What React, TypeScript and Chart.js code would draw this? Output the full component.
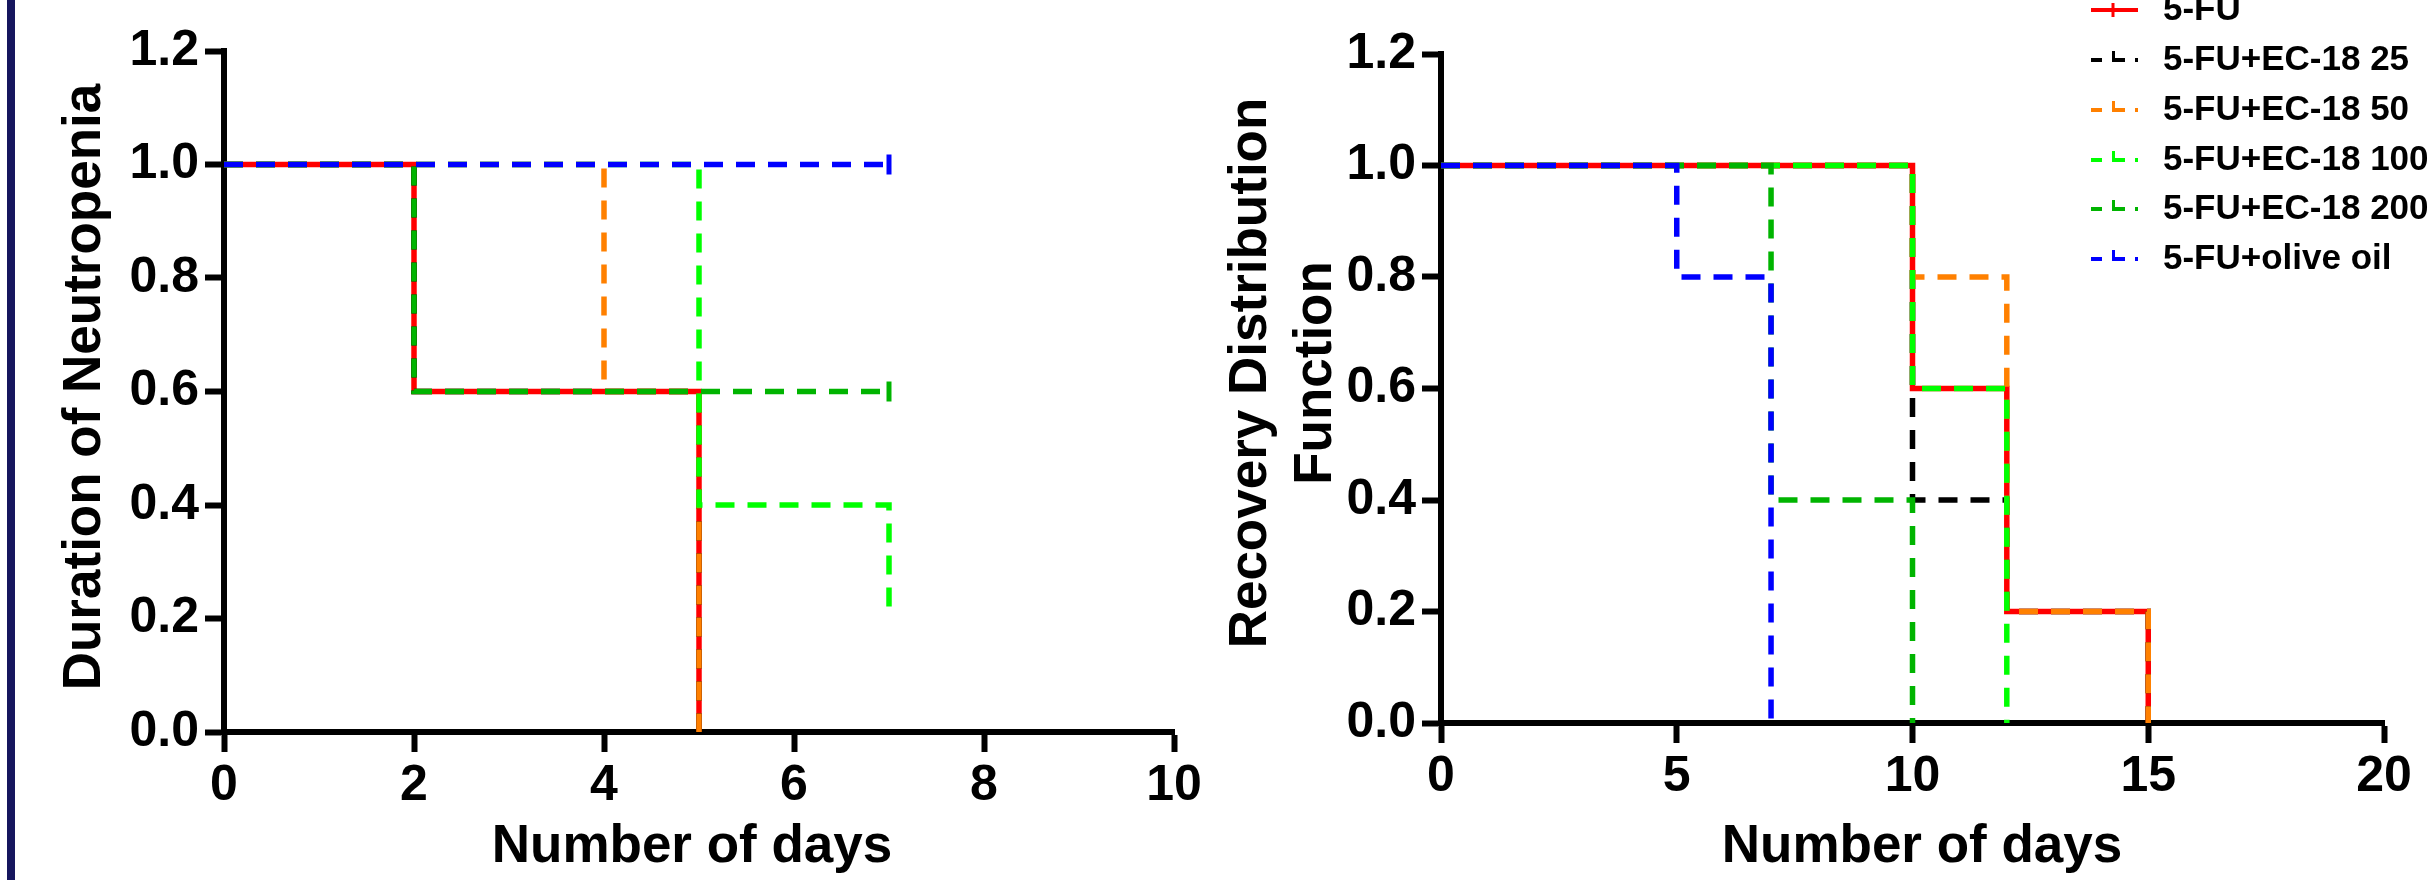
import React, { useEffect, useRef } from 'react';
import { Chart, registerables } from 'chart.js';

Chart.register(...registerables);

// ---------- data ----------
const SERIES_NAMES = [
  '5-FU',
  '5-FU+EC-18 25',
  '5-FU+EC-18 50',
  '5-FU+EC-18 100',
  '5-FU+EC-18 200',
  '5-FU+olive oil',
];
const SERIES_COLORS = ['#ff0000', '#000000', '#ff8000', '#00ff00', '#00b400', '#0000ff'];

const Y_TICKS = [0, 0.2, 0.4, 0.6, 0.8, 1.0, 1.2];
const LEFT_X_TICKS = [0, 2, 4, 6, 8, 10];
const RIGHT_X_TICKS = [0, 5, 10, 15, 20];

const X_TITLE = 'Number of days';
const LEFT_Y_TITLE = ['Duration of Neutropenia'];
const RIGHT_Y_TITLE = ['Recovery Distribution', 'Function'];

// [day, fraction, censored(1)]
const L_5FU = [[0, 1], [2, 0.6], [5, 0]];
const L_EC25 = [[0, 1], [2, 0.6], [5, 0]];
const L_EC50 = [[0, 1], [4, 0.6], [5, 0]];
const L_EC100 = [[0, 1], [5, 0.4], [7, 0.2]];
const L_EC200 = [[0, 1], [2, 0.6], [7, 0.6, 1]];
const L_OLIVE = [[0, 1], [7, 1, 1]];

const R_5FU = [[0, 1], [10, 0.6], [12, 0.2], [15, 0]];
const R_EC25 = [[0, 1], [10, 0.4], [12, 0.2], [15, 0]];
const R_EC50 = [[0, 1], [10, 0.8], [12, 0.2], [15, 0]];
const R_EC100 = [[0, 1], [10, 0.6], [12, 0]];
const R_EC200 = [[0, 1], [7, 0.4], [10, 0]];
const R_OLIVE = [[0, 1], [5, 0.8], [7, 0]];

// ---------- style ----------
const FAMILY = "'Liberation Sans', Arial, sans-serif";
const TICK_FONT = { family: FAMILY, size: 50, weight: 'bold' as const };
const TITLE_FONT = `bold 53px ${FAMILY}`;
const LEGEND_FONT = `bold 35px ${FAMILY}`;

function makeDatasets(series: number[][][]) {
  return series.map((pts, i) => ({
    label: SERIES_NAMES[i],
    data: pts.map((p) => ({ x: p[0], y: p[1] })),
    borderColor: SERIES_COLORS[i],
    backgroundColor: SERIES_COLORS[i],
    borderWidth: 5.5,
    borderDash: i === 0 ? [] : [19, 13],
    stepped: true,
    fill: false,
    tension: 0,
    pointRadius: pts.map((p) => (p[2] ? 10 : 0)),
    pointHoverRadius: 0,
    pointStyle: 'line',
    pointRotation: 90,
    pointBorderColor: SERIES_COLORS[i],
    pointBorderWidth: 5,
    order: SERIES_NAMES.length - 1 - i,
    clip: false,
  }));
}

function xAxis(max: number, ticksArr: number[], height: number) {
  return {
    type: 'linear',
    min: 0,
    max,
    afterBuildTicks: (s: any) => {
      s.ticks = ticksArr.map((v) => ({ value: v }));
    },
    afterFit: (s: any) => {
      s.height = height;
    },
    ticks: { font: TICK_FONT, color: '#000', padding: 4, autoSkip: false, maxRotation: 0, minRotation: 0, callback: (v: any) => String(v) },
    grid: { drawOnChartArea: false, drawTicks: true, tickLength: 20, tickWidth: 6, tickColor: '#000' },
    border: { display: true, color: '#000', width: 6 },
    title: { display: false },
  };
}

function yAxis(width: number) {
  return {
    type: 'linear',
    min: 0,
    max: 1.2,
    afterBuildTicks: (s: any) => {
      s.ticks = Y_TICKS.map((v) => ({ value: v }));
    },
    afterFit: (s: any) => {
      s.width = width;
    },
    ticks: { font: TICK_FONT, color: '#000', padding: 6, autoSkip: false, callback: (v: any) => Number(v).toFixed(1) },
    grid: { drawOnChartArea: false, drawTicks: true, tickLength: 19, tickWidth: 6, tickColor: '#000' },
    border: { display: true, color: '#000', width: 6 },
    title: { display: false },
  };
}

// axis titles (placed like the original figure, local canvas coords)
function titlePlugin(xTitle: { x: number; y: number }, yTitle: { lines: string[]; x: number; y: number; gap: number }) {
  return {
    id: 'axisTitles',
    afterDraw(chart: any) {
      const ctx = chart.ctx as CanvasRenderingContext2D;
      ctx.save();
      ctx.fillStyle = '#000';
      ctx.font = TITLE_FONT;
      ctx.textAlign = 'center';
      ctx.textBaseline = 'middle';
      ctx.fillText(X_TITLE, xTitle.x, xTitle.y);
      ctx.translate(yTitle.x, yTitle.y);
      ctx.rotate(-Math.PI / 2);
      yTitle.lines.forEach((line, i) => {
        ctx.fillText(line, 0, i * yTitle.gap);
      });
      ctx.restore();
    },
  };
}

// legend layout (local to right canvas)
const LEGEND_ROWS_Y = [10, 60, 110, 160, 209, 259];
const LEGEND_LINE_X0 = 871;
const LEGEND_LINE_X1 = 918;
const LEGEND_TEXT_X = 943;

const legendPlugin = {
  id: 'kmLegend',
  afterDraw(chart: any) {
    const ctx = chart.ctx as CanvasRenderingContext2D;
    ctx.save();
    chart.data.datasets.forEach((ds: any, i: number) => {
      const y = LEGEND_ROWS_Y[i];
      const col = ds.borderColor;
      ctx.strokeStyle = col;
      ctx.lineCap = 'butt';
      if (i === 0) {
        ctx.lineWidth = 4;
        ctx.beginPath();
        ctx.moveTo(LEGEND_LINE_X0, y);
        ctx.lineTo(LEGEND_LINE_X1, y);
        ctx.stroke();
        ctx.lineWidth = 3;
        ctx.beginPath();
        ctx.moveTo(893, y - 7);
        ctx.lineTo(893, y + 7);
        ctx.stroke();
      } else {
        ctx.lineWidth = 4;
        ctx.beginPath();
        ctx.moveTo(LEGEND_LINE_X0, y);
        ctx.lineTo(882, y);
        ctx.moveTo(892, y);
        ctx.lineTo(905, y);
        ctx.moveTo(915, y);
        ctx.lineTo(LEGEND_LINE_X1, y);
        ctx.stroke();
        ctx.lineWidth = 3;
        ctx.beginPath();
        ctx.moveTo(893.5, y - 9);
        ctx.lineTo(893.5, y + 2);
        ctx.stroke();
      }
      ctx.fillStyle = '#000';
      ctx.font = LEGEND_FONT;
      ctx.textAlign = 'left';
      ctx.textBaseline = 'middle';
      ctx.fillText(ds.label, LEGEND_TEXT_X, y);
    });
    ctx.restore();
  },
};

function config(series: number[][][], xMax: number, xTicks: number[], pad: any, yW: number, xH: number, plugins: any[]) {
  return {
    type: 'line',
    data: { datasets: makeDatasets(series) },
    options: {
      responsive: false,
      animation: false,
      devicePixelRatio: 1,
      events: [],
      layout: { padding: pad },
      plugins: { legend: { display: false }, tooltip: { enabled: false }, title: { display: false } },
      scales: {
        x: xAxis(xMax, xTicks, xH),
        y: yAxis(yW),
      },
    },
    plugins,
  } as any;
}

export default function App() {
  const leftRef = useRef<HTMLCanvasElement>(null);
  const rightRef = useRef<HTMLCanvasElement>(null);

  useEffect(() => {
    const c1 = new Chart(
      leftRef.current!,
      config(
        [L_5FU, L_EC25, L_EC50, L_EC100, L_EC200, L_OLIVE],
        10,
        LEFT_X_TICKS,
        { left: 0, right: 46, top: 51, bottom: 0 },
        224,
        148,
        [titlePlugin({ x: 692, y: 847 }, { lines: LEFT_Y_TITLE, x: 85, y: 387, gap: 0 })]
      )
    );
    const c2 = new Chart(
      rightRef.current!,
      config(
        [R_5FU, R_EC25, R_EC50, R_EC100, R_EC200, R_OLIVE],
        20,
        RIGHT_X_TICKS,
        { left: 0, right: 49, top: 54, bottom: 0 },
        221,
        157,
        [titlePlugin({ x: 702, y: 847 }, { lines: RIGHT_Y_TITLE, x: 31, y: 373, gap: 65 }), legendPlugin]
      )
    );
    return () => {
      c1.destroy();
      c2.destroy();
    };
  }, []);

  return (
    <div style={{ position: 'absolute', left: 0, top: 0, width: 2433, height: 880, background: '#fff', overflow: 'hidden' }}>
      <canvas ref={leftRef} width={1220} height={880} style={{ position: 'absolute', left: 0, top: 0, width: 1220, height: 880 }} />
      <canvas ref={rightRef} width={1213} height={880} style={{ position: 'absolute', left: 1220, top: 0, width: 1213, height: 880 }} />
      <div style={{ position: 'absolute', left: 7, top: 0, width: 8, height: 880, background: '#16165e' }} />
    </div>
  );
}
